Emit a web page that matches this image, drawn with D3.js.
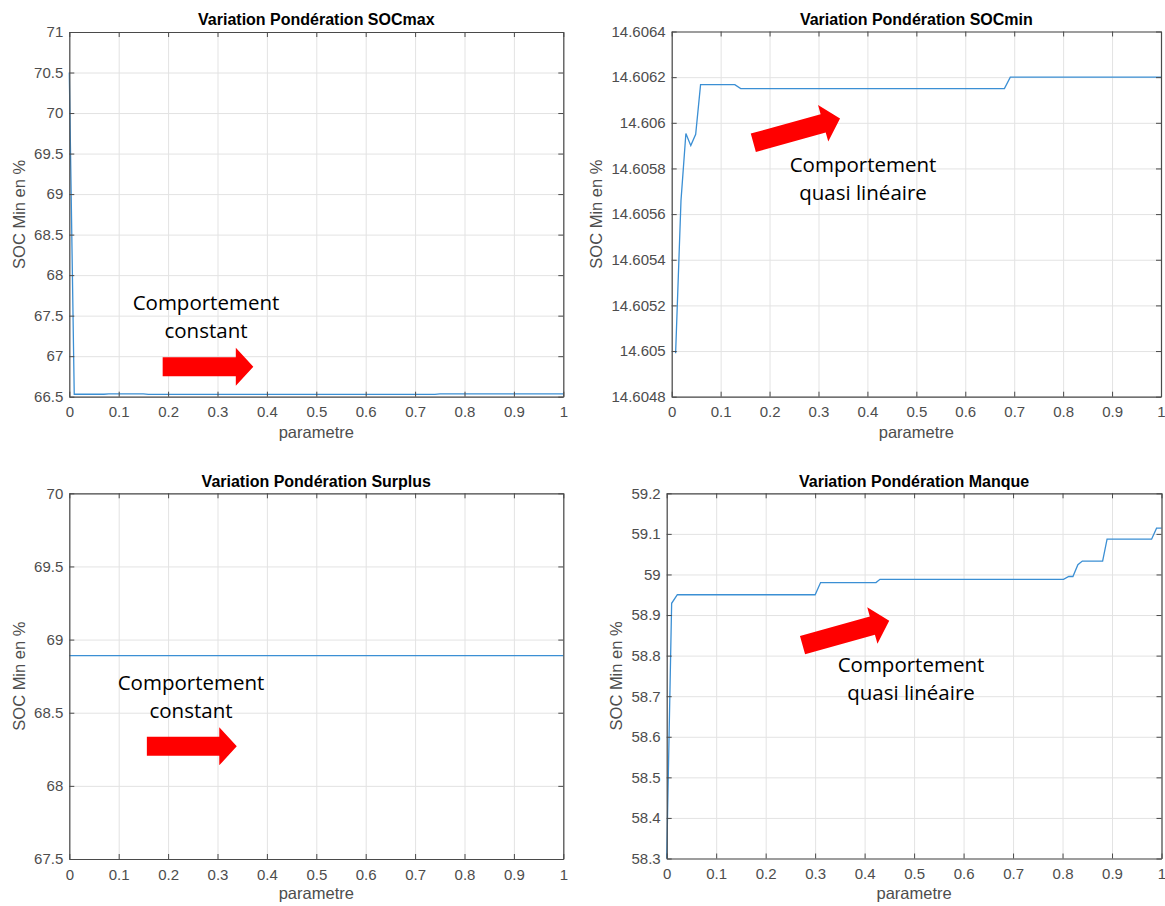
<!DOCTYPE html>
<html><head><meta charset="utf-8">
<script src="https://cdn.jsdelivr.net/npm/d3@7"></script>
<style>
body{margin:0;background:#fff;}
svg{display:block;font-family:"Liberation Sans",Arial,Helvetica,sans-serif;}
</style></head><body>
<svg id="chart" width="1165" height="906"></svg>
<script>
// ---------- data ----------
const xTicks = [0, 0.1, 0.2, 0.3, 0.4, 0.5, 0.6, 0.7, 0.8, 0.9, 1];
const titles = ["Variation Pondération SOCmax", "Variation Pondération SOCmin",
                "Variation Pondération Surplus", "Variation Pondération Manque"];
const xLabel = "parametre";
const yLabel = "SOC Min en %";

const socmaxX = [0, 0.01, 0.07, 0.08, 0.15, 0.16, 0.74, 0.75, 1];
const socmaxY = [70.5, 66.53, 66.53, 66.535, 66.535, 66.528, 66.528, 66.535, 66.535];
const socmaxTicks = [66.5, 67, 67.5, 68, 68.5, 69, 69.5, 70, 70.5, 71];

const socminX = [0.008, 0.019, 0.029, 0.039, 0.049, 0.059, 0.129, 0.141, 0.68, 0.692, 1];
const socminY = [14.60499, 14.60566, 14.605953, 14.6059, 14.60595, 14.606167, 14.606167,
                 14.60615, 14.60615, 14.6062, 14.6062];
const socminTicks = [14.6048, 14.605, 14.6052, 14.6054, 14.6056, 14.6058, 14.606, 14.6062, 14.6064];

const surplusX = [0, 0.25, 0.5, 0.75, 1];
const surplusY = [68.89, 68.89, 68.89, 68.89, 68.89];
const surplusTicks = [67.5, 68, 68.5, 69, 69.5, 70];

const manqueX = [0, 0.01, 0.0215, 0.30, 0.311, 0.423, 0.431, 0.802, 0.8125, 0.821, 0.831,
                 0.84, 0.881, 0.89, 0.98, 0.99, 1];
const manqueY = [58.3, 58.929, 58.95, 58.95, 58.98, 58.98, 58.988, 58.988, 58.995, 58.995,
                 59.024, 59.033, 59.033, 59.087, 59.087, 59.114, 59.114];
const manqueTicks = [58.3, 58.4, 58.5, 58.6, 58.7, 58.8, 58.9, 59, 59.1, 59.2];

const annotationLines = [["Comportement", "constant"], ["Comportement", "quasi linéaire"],
                         ["Comportement", "constant"], ["Comportement", "quasi linéaire"]];
// annotation anchors, in data coordinates
const annotationAt = [[0.2767, 67.57], [0.391, 14.6057847], [0.2464, 68.656], [0.4937, 58.7594]];
const arrowFrom = [[0.189, 66.87], [0.1668, 14.6059125], [0.157, 68.27], [0.2745, 58.826]];
const arrowTo   = [[0.3725, 66.87], [0.344, 14.6060184], [0.339, 68.27], [0.4497, 58.8857]];

// ---------- layout ----------
const panels = [
  {l: 69.3, r: 563.3, t: 32, b: 396.7, xs: socmaxX, ys: socmaxY, ticks: socmaxTicks, ylabX: 25, titleY: 24.5, xlabY: 438},
  {l: 671.7, r: 1161, t: 31.5, b: 396.7, xs: socminX, ys: socminY, ticks: socminTicks, ylabX: 602, titleY: 24.5, xlabY: 438},
  {l: 69.3, r: 563.3, t: 493.3, b: 859, xs: surplusX, ys: surplusY, ticks: surplusTicks, ylabX: 25, titleY: 487, xlabY: 899},
  {l: 666.7, r: 1161.5, t: 493.3, b: 858.5, xs: manqueX, ys: manqueY, ticks: manqueTicks, ylabX: 622, titleY: 487, xlabY: 899}
];

const svg = d3.select("#chart");
const fmt = d => String(+d.toFixed(4));
const axisColor = "#4a4a4a";
const gridColor = "#e3e3e3";
const lineColor = "#3b8fd4";

panels.forEach((p, i) => {
  const w = p.r - p.l, h = p.b - p.t;
  const x = d3.scaleLinear().domain([0, 1]).range([0, w]);
  const y = d3.scaleLinear().domain(d3.extent(p.ticks)).range([h, 0]);
  const g = svg.append("g").attr("transform", `translate(${p.l},${p.t})`);

  // grid
  g.append("g").attr("transform", `translate(0,${h})`)
    .call(d3.axisBottom(x).tickValues(xTicks).tickSize(-h).tickFormat(""))
    .call(a => a.select(".domain").remove())
    .call(a => a.selectAll("line").attr("stroke", gridColor));
  g.append("g")
    .call(d3.axisLeft(y).tickValues(p.ticks).tickSize(-w).tickFormat(""))
    .call(a => a.select(".domain").remove())
    .call(a => a.selectAll("line").attr("stroke", gridColor));

  // data line
  const pts = p.xs.map((v, k) => [v, p.ys[k]]);
  g.append("path").datum(pts)
    .attr("fill", "none").attr("stroke", lineColor).attr("stroke-width", 1.3)
    .attr("d", d3.line().x(d => x(d[0])).y(d => y(d[1])));

  // axes with inward ticks
  const styleAxis = a => {
    a.select(".domain").attr("stroke", axisColor).attr("stroke-width", 1.2);
    a.selectAll(".tick line").attr("stroke", axisColor);
    a.selectAll("text").attr("fill", "#4d4d4d").attr("font-size", 15);
  };
  g.append("g").attr("transform", `translate(0,${h})`)
    .call(d3.axisBottom(x).tickValues(xTicks).tickSize(-5).tickPadding(10).tickSizeOuter(0).tickFormat(fmt))
    .call(styleAxis);
  g.append("g")
    .call(d3.axisLeft(y).tickValues(p.ticks).tickSize(-5).tickPadding(6).tickSizeOuter(0).tickFormat(fmt))
    .call(styleAxis);
  g.append("g")
    .call(d3.axisTop(x).tickValues(xTicks).tickSize(-5).tickSizeOuter(0).tickFormat(""))
    .call(styleAxis);
  g.append("g").attr("transform", `translate(${w},0)`)
    .call(d3.axisRight(y).tickValues(p.ticks).tickSize(-5).tickSizeOuter(0).tickFormat(""))
    .call(styleAxis);

  // title
  svg.append("text").attr("x", p.l + w / 2).attr("y", p.titleY)
    .attr("text-anchor", "middle").attr("font-weight", "bold").attr("font-size", 16)
    .attr("fill", "#000").text(titles[i]);
  // x label
  svg.append("text").attr("x", p.l + w / 2).attr("y", p.xlabY)
    .attr("text-anchor", "middle").attr("font-size", 16.5).attr("fill", "#4d4d4d").text(xLabel);
  // y label
  svg.append("text").attr("transform", `translate(${p.ylabX},${p.t + h / 2}) rotate(-90)`)
    .attr("text-anchor", "middle").attr("font-size", 16.5).attr("fill", "#4d4d4d").text(yLabel);

  // annotation text
  const at = annotationAt[i];
  const t = g.append("text").attr("text-anchor", "middle")
    .attr("font-family", "'Open Sans', 'Noto Sans', sans-serif").attr("font-size", 20.5).attr("fill", "#000");
  annotationLines[i].forEach((s, k) => {
    t.append("tspan").attr("x", x(at[0])).attr("y", y(at[1]) + k * 28).text(s);
  });

  // block arrow
  const x0 = x(arrowFrom[i][0]), y0 = y(arrowFrom[i][1]);
  const x1 = x(arrowTo[i][0]), y1 = y(arrowTo[i][1]);
  const len = Math.hypot(x1 - x0, y1 - y0);
  const ang = Math.atan2(y1 - y0, x1 - x0) * 180 / Math.PI;
  const sw = 9.5, hw = 19, hl = 17.5;
  const shape = [[0, -sw], [len - hl, -sw], [len - hl, -hw], [len, 0], [len - hl, hw], [len - hl, sw], [0, sw]];
  g.append("polygon")
    .attr("points", shape.map(q => q.join(",")).join(" "))
    .attr("transform", `translate(${x0},${y0}) rotate(${ang})`)
    .attr("fill", "#ff0000");
});
</script>
</body></html>
